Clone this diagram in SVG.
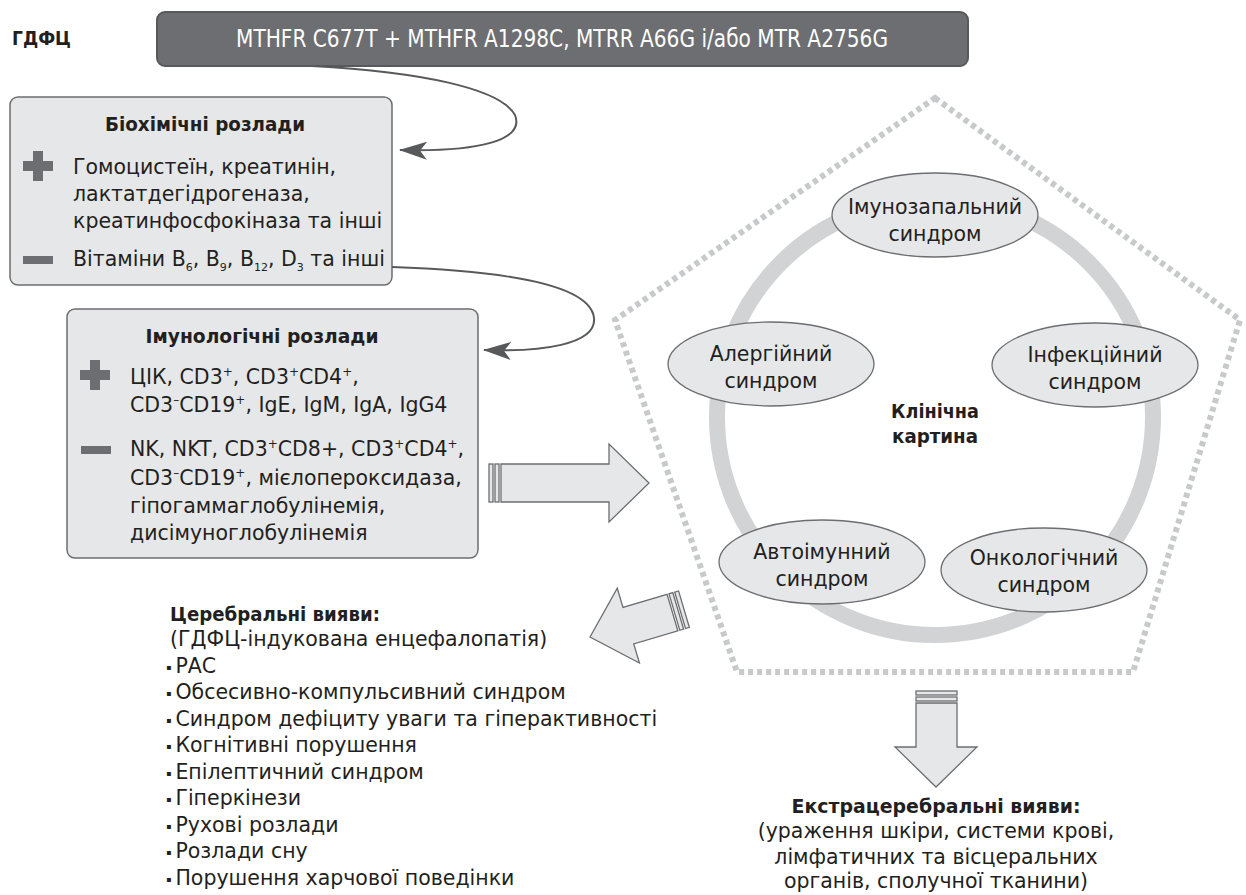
<svg xmlns="http://www.w3.org/2000/svg" width="1246" height="895" viewBox="0 0 1246 895">
<style>
text{font-family:"DejaVu Sans","Liberation Sans",sans-serif;fill:#231f20;font-size:20.5px}
.b{font-weight:bold;font-size:20px}
.c{text-anchor:middle}
.box{fill:#e6e7e8;stroke:#6d6e71;stroke-width:1.5}
.ell{fill:#e6e7e8;stroke:#6d6e71;stroke-width:1.3}
.arr{fill:#e6e7e8;stroke:#6d6e71;stroke-width:1.3;stroke-linejoin:miter}
.icon{fill:#6d6e71}
.curve{fill:none;stroke:#58595b;stroke-width:2}
.sup{font-size:12px}
.sub{font-size:11px}
.bul{font-size:8px}
</style>
<defs>
<marker id="barb" viewBox="0 0 28 18" refX="27" refY="9" markerWidth="28" markerHeight="18" markerUnits="userSpaceOnUse" orient="auto">
<path d="M28,9 L0,0 L7,9 L0,18 Z" fill="#58595b"/>
</marker>
</defs>

<g id="pentagon">
<polygon points="935,98 1240,320 1133,672 737,672 615,320" fill="none" stroke="#c8c9cb" stroke-width="6" stroke-dasharray="5 4"/>
</g>
<g id="ring">
<circle cx="935" cy="417" r="218" fill="none" stroke="#d1d3d4" stroke-width="16"/>
</g>

<g id="gdfc-label">
<text x="12" y="45" class="b" textLength="59" lengthAdjust="spacingAndGlyphs">ГДФЦ</text>
</g>
<g id="header">
<rect x="157" y="12" width="811" height="54" rx="8" fill="#6d6e71" stroke="#58595b" stroke-width="2"/>
<text x="562" y="47" class="c" style="fill:#ffffff;font-size:24px" textLength="652" lengthAdjust="spacingAndGlyphs">MTHFR C677T + MTHFR A1298C, MTRR A66G і/або MTR A2756G</text>
</g>

<g id="biochem">
<rect class="box" x="10" y="97" width="382" height="188" rx="8"/>
<text x="205" y="131" class="b c" textLength="200" lengthAdjust="spacingAndGlyphs">Біохімічні розлади</text>
<path class="icon" d="M33,151 h10 v10 h10 v10 h-10 v10 h-10 v-10 h-10 v-10 h10 z"/>
<text x="73" y="174">Гомоцистеїн, креатинін,</text>
<text x="73" y="201">лактатдегідрогеназа,</text>
<text x="73" y="228">креатинфосфокіназа та інші</text>
<rect class="icon" x="23" y="256" width="30" height="8"/>
<text x="73" y="266">Вітаміни B<tspan class="sub" dy="5">6</tspan><tspan dy="-5">, B</tspan><tspan class="sub" dy="5">9</tspan><tspan dy="-5">, B</tspan><tspan class="sub" dy="5">12</tspan><tspan dy="-5">, D</tspan><tspan class="sub" dy="5">3</tspan><tspan dy="-5"> та інші</tspan></text>
</g>

<g id="immuno">
<rect class="box" x="67" y="309" width="411" height="249" rx="8"/>
<text x="262" y="343" class="b c" textLength="233" lengthAdjust="spacingAndGlyphs">Імунологічні розлади</text>
<path class="icon" d="M90,360 h10 v10 h10 v10 h-10 v10 h-10 v-10 h-10 v-10 h10 z"/>
<text x="130" y="384">ЦІК, CD3<tspan class="sup" dy="-8">+</tspan><tspan dy="8">, CD3</tspan><tspan class="sup" dy="-8">+</tspan><tspan dy="8">CD4</tspan><tspan class="sup" dy="-8">+</tspan><tspan dy="8">,</tspan></text>
<text x="130" y="412">CD3<tspan class="sup" dy="-8">–</tspan><tspan dy="8">CD19</tspan><tspan class="sup" dy="-8">+</tspan><tspan dy="8">, IgE, IgM, IgA, IgG4</tspan></text>
<rect class="icon" x="81" y="446" width="30" height="8"/>
<text x="130" y="456">NK, NKT, CD3<tspan class="sup" dy="-8">+</tspan><tspan dy="8">CD8+, CD3</tspan><tspan class="sup" dy="-8">+</tspan><tspan dy="8">CD4</tspan><tspan class="sup" dy="-8">+</tspan><tspan dy="8">,</tspan></text>
<text x="130" y="485">CD3<tspan class="sup" dy="-8">–</tspan><tspan dy="8">CD19</tspan><tspan class="sup" dy="-8">+</tspan><tspan dy="8">, мієлопероксидаза,</tspan></text>
<text x="130" y="513">гіпогаммаглобулінемія,</text>
<text x="130" y="540">дисімуноглобулінемія</text>
</g>

<g id="connectors">
<path class="curve" d="M312,66 C420,72 500,88 515,115 C525,140 480,152 400,150" marker-end="url(#barb)"/>
<path class="curve" d="M392,267 C480,270 590,280 594,318 C597,345 540,352 484,350" marker-end="url(#barb)"/>
<g id="arrow-right">
<rect class="arr" x="489" y="464" width="4" height="38"/>
<rect class="arr" x="495" y="464" width="4" height="38"/>
<path class="arr" d="M501,464 L609,464 L609,444 L649,483 L609,522 L609,502 L501,502 Z"/>
</g>
<g id="arrow-diag" transform="translate(590,637) rotate(-16.5)">
<path class="arr" d="M0,0 L40,-39 L40,-19 L86,-19 L86,19 L40,19 L40,39 Z"/>
<rect class="arr" x="88" y="-19" width="4" height="38"/>
<rect class="arr" x="94" y="-19" width="4" height="38"/>
</g>
<g id="arrow-down">
<rect class="arr" x="916" y="691" width="41" height="4"/>
<rect class="arr" x="916" y="697" width="41" height="4"/>
<path class="arr" d="M916,703 L957,703 L957,747 L977,747 L936,787 L895,747 L916,747 Z"/>
</g>
</g>

<g id="s-immunoinfl">
<ellipse class="ell" cx="935" cy="215" rx="103" ry="42"/>
<text x="935" y="214" class="c">Імунозапальний</text>
<text x="935" y="241" class="c">синдром</text>
</g>
<g id="s-allergic">
<ellipse class="ell" cx="771" cy="364" rx="103" ry="42"/>
<text x="771" y="361" class="c">Алергійний</text>
<text x="771" y="388" class="c">синдром</text>
</g>
<g id="s-infect">
<ellipse class="ell" cx="1095" cy="365" rx="103" ry="42"/>
<text x="1095" y="362" class="c">Інфекційний</text>
<text x="1095" y="389" class="c">синдром</text>
</g>
<g id="s-autoimmune">
<ellipse class="ell" cx="822" cy="562" rx="103" ry="42"/>
<text x="822" y="559" class="c">Автоімунний</text>
<text x="822" y="586" class="c">синдром</text>
</g>
<g id="s-onco">
<ellipse class="ell" cx="1044" cy="570" rx="103" ry="42"/>
<text x="1044" y="565" class="c">Онкологічний</text>
<text x="1044" y="592" class="c">синдром</text>
</g>
<g id="clinical">
<text x="935" y="418" class="b c" textLength="88" lengthAdjust="spacingAndGlyphs">Клінічна</text>
<text x="935" y="443" class="b c" textLength="86" lengthAdjust="spacingAndGlyphs">картина</text>
</g>

<g id="cerebral">
<text x="170" y="621" class="b" textLength="210" lengthAdjust="spacingAndGlyphs">Церебральні вияви:</text>
<text x="170" y="646">(ГДФЦ-індукована енцефалопатія)</text>
<text x="166" y="673"><tspan class="bul" dy="-3">▪</tspan><tspan dx="4" dy="3">РАС</tspan></text>
<text x="166" y="699"><tspan class="bul" dy="-3">▪</tspan><tspan dx="4" dy="3">Обсесивно-компульсивний синдром</tspan></text>
<text x="166" y="726"><tspan class="bul" dy="-3">▪</tspan><tspan dx="4" dy="3">Синдром дефіциту уваги та гіперактивності</tspan></text>
<text x="166" y="752"><tspan class="bul" dy="-3">▪</tspan><tspan dx="4" dy="3">Когнітивні порушення</tspan></text>
<text x="166" y="779"><tspan class="bul" dy="-3">▪</tspan><tspan dx="4" dy="3">Епілептичний синдром</tspan></text>
<text x="166" y="805"><tspan class="bul" dy="-3">▪</tspan><tspan dx="4" dy="3">Гіперкінези</tspan></text>
<text x="166" y="832"><tspan class="bul" dy="-3">▪</tspan><tspan dx="4" dy="3">Рухові розлади</tspan></text>
<text x="166" y="858"><tspan class="bul" dy="-3">▪</tspan><tspan dx="4" dy="3">Розлади сну</tspan></text>
<text x="166" y="885"><tspan class="bul" dy="-3">▪</tspan><tspan dx="4" dy="3">Порушення харчової поведінки</tspan></text>
</g>

<g id="extracerebral">
<text x="936" y="813" class="b c" textLength="289" lengthAdjust="spacingAndGlyphs">Екстрацеребральні вияви:</text>
<text x="936" y="838" class="c">(ураження шкіри, системи крові,</text>
<text x="936" y="864" class="c">лімфатичних та вісцеральних</text>
<text x="936" y="888" class="c">органів, сполучної тканини)</text>
</g>
</svg>
